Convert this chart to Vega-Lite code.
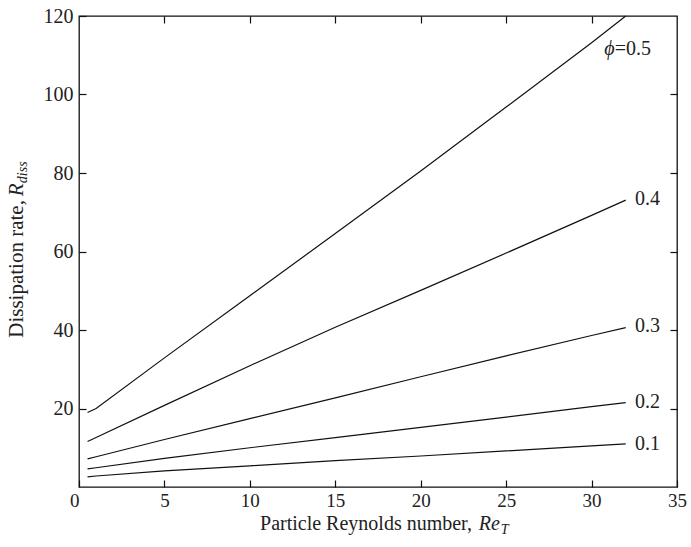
{
  "$schema": "https://vega.github.io/schema/vega-lite/v6.json",
  "autosize": {"type": "none"},
  "width": 598,
  "height": 471,
  "padding": {"left": 79, "top": 16, "right": 14, "bottom": 60},
  "background": "white",
  "config": {
    "view": {"stroke": "#111", "strokeWidth": 1.3},
    "font": "Liberation Serif",
    "axis": {
      "labelFont": "Liberation Serif",
      "labelFontSize": 20,
      "labelColor": "#222",
      "domain": false,
      "grid": false,
      "tickColor": "#111",
      "tickWidth": 1.2,
      "tickSize": -7,
      "labelPadding": 13
    }
  },
  "datasets": {
    "curves": [
      {"phi": 0.5, "Re": 0.5, "R": 19.0},
      {"phi": 0.5, "Re": 1, "R": 20.0},
      {"phi": 0.5, "Re": 5, "R": 32.9},
      {"phi": 0.5, "Re": 10, "R": 48.7},
      {"phi": 0.5, "Re": 15, "R": 64.6},
      {"phi": 0.5, "Re": 20, "R": 80.5},
      {"phi": 0.5, "Re": 25, "R": 96.8},
      {"phi": 0.5, "Re": 30, "R": 113.2},
      {"phi": 0.5, "Re": 32, "R": 120.0},
      {"phi": 0.4, "Re": 0.5, "R": 11.6},
      {"phi": 0.4, "Re": 1, "R": 12.6},
      {"phi": 0.4, "Re": 5, "R": 20.8},
      {"phi": 0.4, "Re": 10, "R": 30.9},
      {"phi": 0.4, "Re": 15, "R": 40.7},
      {"phi": 0.4, "Re": 20, "R": 50.1},
      {"phi": 0.4, "Re": 25, "R": 59.6},
      {"phi": 0.4, "Re": 30, "R": 69.2},
      {"phi": 0.4, "Re": 32, "R": 73.1},
      {"phi": 0.3, "Re": 0.5, "R": 7.15},
      {"phi": 0.3, "Re": 1, "R": 7.7},
      {"phi": 0.3, "Re": 5, "R": 12.1},
      {"phi": 0.3, "Re": 10, "R": 17.4},
      {"phi": 0.3, "Re": 15, "R": 22.7},
      {"phi": 0.3, "Re": 20, "R": 28.1},
      {"phi": 0.3, "Re": 25, "R": 33.4},
      {"phi": 0.3, "Re": 30, "R": 38.6},
      {"phi": 0.3, "Re": 32, "R": 40.6},
      {"phi": 0.2, "Re": 0.5, "R": 4.6},
      {"phi": 0.2, "Re": 1, "R": 4.9},
      {"phi": 0.2, "Re": 5, "R": 7.3},
      {"phi": 0.2, "Re": 10, "R": 10.0},
      {"phi": 0.2, "Re": 15, "R": 12.6},
      {"phi": 0.2, "Re": 20, "R": 15.2},
      {"phi": 0.2, "Re": 25, "R": 17.8},
      {"phi": 0.2, "Re": 30, "R": 20.5},
      {"phi": 0.2, "Re": 32, "R": 21.5},
      {"phi": 0.1, "Re": 0.5, "R": 2.6},
      {"phi": 0.1, "Re": 1, "R": 2.8},
      {"phi": 0.1, "Re": 5, "R": 4.1},
      {"phi": 0.1, "Re": 10, "R": 5.4},
      {"phi": 0.1, "Re": 15, "R": 6.7},
      {"phi": 0.1, "Re": 20, "R": 7.9},
      {"phi": 0.1, "Re": 25, "R": 9.2},
      {"phi": 0.1, "Re": 30, "R": 10.5},
      {"phi": 0.1, "Re": 32, "R": 11.0}
    ],
    "labels": [
      {"label": "=0.5", "Re": 31.35, "R": 110.1},
      {"label": "0.4", "Re": 32.54, "R": 71.8},
      {"label": "0.3", "Re": 32.54, "R": 39.5},
      {"label": "0.2", "Re": 32.54, "R": 20.1},
      {"label": "0.1", "Re": 32.54, "R": 9.4}
    ]
  },
  "resolve": {"axis": {"x": "independent", "y": "independent"}},
  "layer": [
    {
      "data": {"name": "curves"},
      "mark": {"type": "line", "color": "#111", "strokeWidth": 1.2, "interpolate": "linear"},
      "encoding": {
        "x": {
          "field": "Re", "type": "quantitative",
          "scale": {"domain": [0, 35], "nice": false, "zero": false},
          "axis": {
            "orient": "bottom", "values": [0, 5, 10, 15, 20, 25, 30, 35], "title": null, "labelPadding": 11, "labelFontSize": 19,
            "labelAlign": {"condition": {"test": "datum.value === 0", "value": "right"}, "value": "center"}
          }
        },
        "y": {
          "field": "R", "type": "quantitative",
          "scale": {"domain": [0, 120], "nice": false, "zero": false},
          "axis": {"orient": "left", "values": [20, 40, 60, 80, 100, 120], "title": null}
        },
        "detail": {"field": "phi", "type": "nominal"}
      }
    },
    {
      "data": {"name": "labels"},
      "mark": {"type": "text", "align": "left", "baseline": "alphabetic", "fontSize": 20, "color": "#222", "font": "Liberation Serif"},
      "encoding": {
        "x": {
          "field": "Re", "type": "quantitative",
          "axis": {"orient": "top", "values": [5, 10, 15, 20, 25, 30], "labels": false, "title": null}
        },
        "y": {
          "field": "R", "type": "quantitative",
          "axis": {"orient": "right", "values": [20, 40, 60, 80, 100], "labels": false, "title": null}
        },
        "text": {"field": "label", "type": "nominal"}
      }
    },
    {
      "data": {"values": [{}]},
      "mark": {"type": "text", "align": "right", "baseline": "alphabetic", "fontSize": 20, "fontStyle": "italic", "color": "#222", "font": "Liberation Serif"},
      "encoding": {
        "x": {"datum": 31.35, "type": "quantitative", "axis": null},
        "y": {"datum": 110.1, "type": "quantitative", "axis": null},
        "text": {"value": "ϕ"}
      }
    },
    {
      "data": {"values": [{}]},
      "mark": {"type": "text", "align": "right", "baseline": "alphabetic", "fontSize": 20, "color": "#222", "font": "Liberation Serif"},
      "encoding": {
        "x": {"datum": 23.0, "type": "quantitative", "axis": null},
        "y": {"datum": -10.96, "type": "quantitative", "axis": null},
        "text": {"value": "Particle Reynolds number,"}
      }
    },
    {
      "data": {"values": [{}]},
      "mark": {"type": "text", "align": "left", "baseline": "alphabetic", "fontSize": 20, "fontStyle": "italic", "color": "#222", "font": "Liberation Serif"},
      "encoding": {
        "x": {"datum": 23.4, "type": "quantitative", "axis": null},
        "y": {"datum": -10.96, "type": "quantitative", "axis": null},
        "text": {"value": "Re"}
      }
    },
    {
      "data": {"values": [{}]},
      "mark": {"type": "text", "align": "left", "baseline": "alphabetic", "fontSize": 14, "fontStyle": "italic", "color": "#222", "font": "Liberation Serif"},
      "encoding": {
        "x": {"datum": 24.68, "type": "quantitative", "axis": null},
        "y": {"datum": -11.97, "type": "quantitative", "axis": null},
        "text": {"value": "T"}
      }
    },
    {
      "data": {"values": [{}]},
      "mark": {"type": "text", "align": "right", "baseline": "alphabetic", "angle": 270, "fontSize": 21, "color": "#222", "font": "Liberation Serif"},
      "encoding": {
        "x": {"datum": -3.28, "type": "quantitative", "axis": null},
        "y": {"datum": 73.1, "type": "quantitative", "axis": null},
        "text": {"value": "Dissipation rate,"}
      }
    },
    {
      "data": {"values": [{}]},
      "mark": {"type": "text", "align": "left", "baseline": "alphabetic", "angle": 270, "fontSize": 21, "fontStyle": "italic", "color": "#222", "font": "Liberation Serif"},
      "encoding": {
        "x": {"datum": -3.28, "type": "quantitative", "axis": null},
        "y": {"datum": 74.1, "type": "quantitative", "axis": null},
        "text": {"value": "R"}
      }
    },
    {
      "data": {"values": [{}]},
      "mark": {"type": "text", "align": "left", "baseline": "alphabetic", "angle": 270, "fontSize": 14, "fontStyle": "italic", "color": "#222", "font": "Liberation Serif"},
      "encoding": {
        "x": {"datum": -3.04, "type": "quantitative", "axis": null},
        "y": {"datum": 77.4, "type": "quantitative", "axis": null},
        "text": {"value": "diss"}
      }
    }
  ]
}
